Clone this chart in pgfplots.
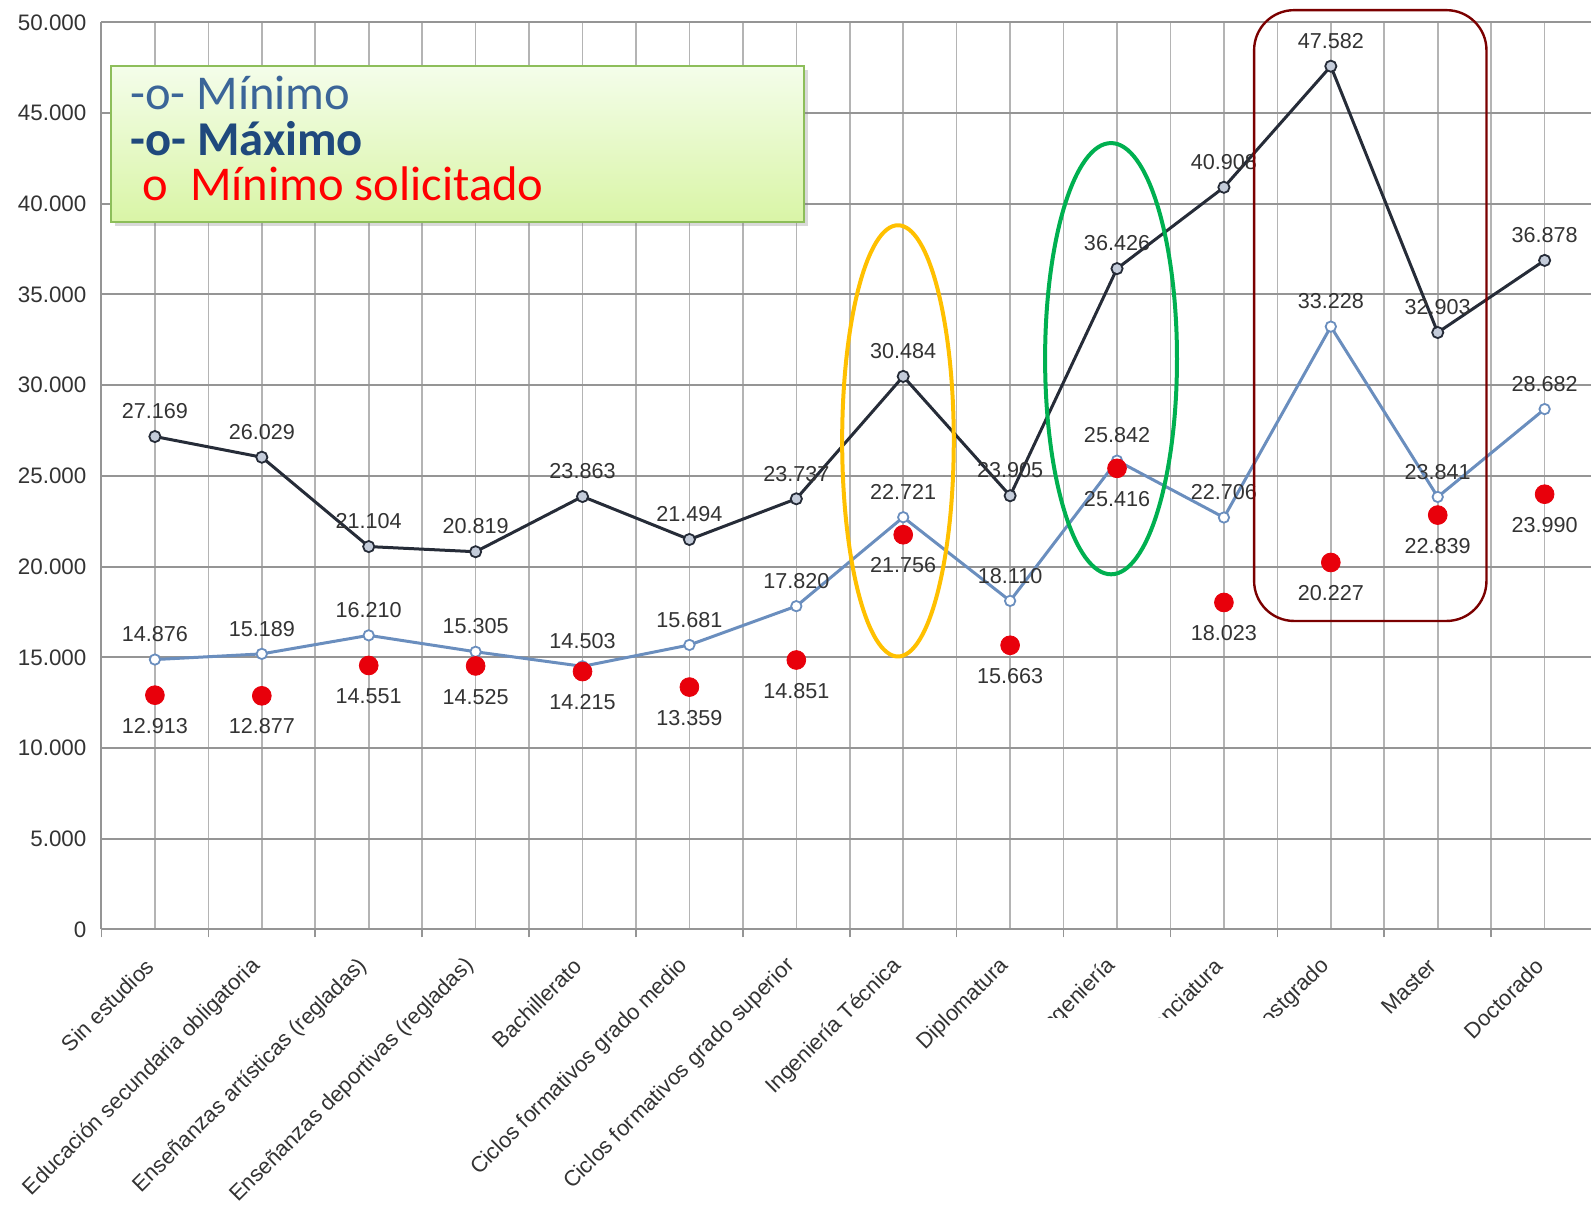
\documentclass[border=0pt]{standalone}
\usepackage{fontspec}
\setmainfont{Liberation Sans}
\newfontfamily\calibri{Carlito}
\usepackage{pgfplots}
\pgfplotsset{compat=1.18}
\usetikzlibrary{shadows}

\definecolor{maxcol}{HTML}{262C38}
\definecolor{maxfill}{HTML}{C4CCDA}
\definecolor{mincol}{HTML}{6A8EBE}
\definecolor{redpt}{HTML}{E8000B}
\definecolor{gridh}{HTML}{959595}
\definecolor{gridv}{HTML}{B4B4B4}
\definecolor{txt}{HTML}{333333}
\definecolor{legblue}{HTML}{3B6598}
\definecolor{legdark}{HTML}{1F497D}
\definecolor{legbord}{HTML}{8DBE5A}
\definecolor{legtop}{HTML}{F4FDEA}
\definecolor{legbot}{HTML}{D9F5A6}
\definecolor{boxred}{HTML}{7B0000}
\definecolor{ellor}{HTML}{FFC000}
\definecolor{ellgr}{HTML}{00B050}

% one pixel of the reference as measured
\newdimen\u \u=0.50733pt

\begin{document}
\begin{tikzpicture}
\begin{axis}[
  at={(100\u,-916\u)}, anchor=south west,
  scale only axis, width=1475\u, height=894\u,
  xmin=-0.5, xmax=13.5, ymin=0, ymax=50000,
  xtick={0,...,13},
  xticklabels={Sin estudios, Educación secundaria obligatoria,
    Enseñanzas artísticas (regladas), Enseñanzas deportivas (regladas),
    Bachillerato, Ciclos formativos grado medio, Ciclos formativos grado superior,
    Ingeniería Técnica, Diplomatura, Ingeniería, Licenciatura, Postgrado,
    Master, Doctorado},
  minor xtick={-0.5,0.5,...,13.5},
  ytick={0,5000,...,50000},
  scaled y ticks=false,
  grid=both,
  major x grid style={gridv, line width=0.8pt},
  minor x grid style={gridv, line width=0.8pt},
  major y grid style={gridh, line width=1pt},
  axis x line*=bottom, axis y line*=left,
  axis line style={gridh, line width=1pt},
  tick align=outside, major tick length=0pt, minor tick length=4pt,
  tick style={gridh, line width=0.8pt},
  x tick label style={rotate=45, anchor=east, font=\fontsize{11}{13}\selectfont,
    text=txt, yshift=-10pt, xshift=-10pt},
  y tick label style={font=\fontsize{11.2}{13}\selectfont, text=txt, xshift=-4pt},
  /pgf/number format/1000 sep={.},
  /pgf/number format/assume math mode=true,
  clip=false,
]
% Maximo
\addplot[maxcol, line width=1.5pt, mark=*, mark size=2.8pt,
  mark options={fill=maxfill, draw=maxcol, line width=0.9pt},
  nodes near coords,
  every node near coord/.append style={anchor=south, yshift=5pt,
    font=\fontsize{10.8}{12}\selectfont, text=txt}]
  coordinates {
  (0,27169)(1,26029)(2,21104)(3,20819)(4,23863)(5,21494)(6,23737)
  (7,30484)(8,23905)(9,36426)(10,40908)(11,47582)(12,32903)(13,36878)
  };
% Minimo
\addplot[mincol, line width=1.5pt, mark=*, mark size=2.6pt,
  mark options={fill=white, draw=mincol, line width=0.9pt},
  nodes near coords,
  every node near coord/.append style={anchor=south, yshift=5pt,
    font=\fontsize{10.8}{12}\selectfont, text=txt}]
  coordinates {
  (0,14876)(1,15189)(2,16210)(3,15305)(4,14503)(5,15681)(6,17820)
  (7,22721)(8,18110)(9,25842)(10,22706)(11,33228)(12,23841)(13,28682)
  };
% Minimo solicitado
\addplot[only marks, mark=*, mark size=4.7pt,
  mark options={fill=redpt, draw=redpt},
  nodes near coords,
  every node near coord/.append style={anchor=north, yshift=-8pt,
    font=\fontsize{10.8}{12}\selectfont, text=txt}]
  coordinates {
  (0,12913)(1,12877)(2,14551)(3,14525)(4,14215)(5,13359)(6,14851)
  (7,21756)(8,15663)(9,25416)(10,18023)(11,20227)(12,22839)(13,23990)
  };
\end{axis}
\begin{scope}[x=\u, y=-\u]
  % covered labels
  \fill[white] (1012,1003) rectangle (1345,1190);
  % highlights
  \draw[ellor, line width=2pt] (885,434.5) ellipse [x radius=55, y radius=212.5];
  \draw[ellgr, line width=2pt] (1095,353.5) ellipse [x radius=65, y radius=212.5];
  \draw[boxred, line width=1.2pt, rounded corners=20pt] (1236,10) rectangle (1465,612);
  % legend box
  \path[draw=legbord, line width=1pt, top color=legtop, bottom color=legbot,
    drop shadow={shadow xshift=2pt, shadow yshift=-2pt, opacity=0.3}]
    (109,65) rectangle (792,219);
  \node[anchor=base west, inner sep=0, text=legblue,
    font=\calibri\fontsize{24.3}{28}\selectfont] at (128,108) {-o- Mínimo};
  \node[anchor=base west, inner sep=0, text=legdark,
    font=\calibri\bfseries\fontsize{24.3}{28}\selectfont] at (128,153) {-o- Máximo};
  \node[anchor=base west, inner sep=0, text=red,
    font=\calibri\fontsize{24.3}{28}\selectfont] at (140,198) {o\ \ Mínimo solicitado};
\end{scope}
\pgfresetboundingbox
\useasboundingbox (0,0) rectangle (795.5pt,-603pt);
\end{tikzpicture}
\end{document}
